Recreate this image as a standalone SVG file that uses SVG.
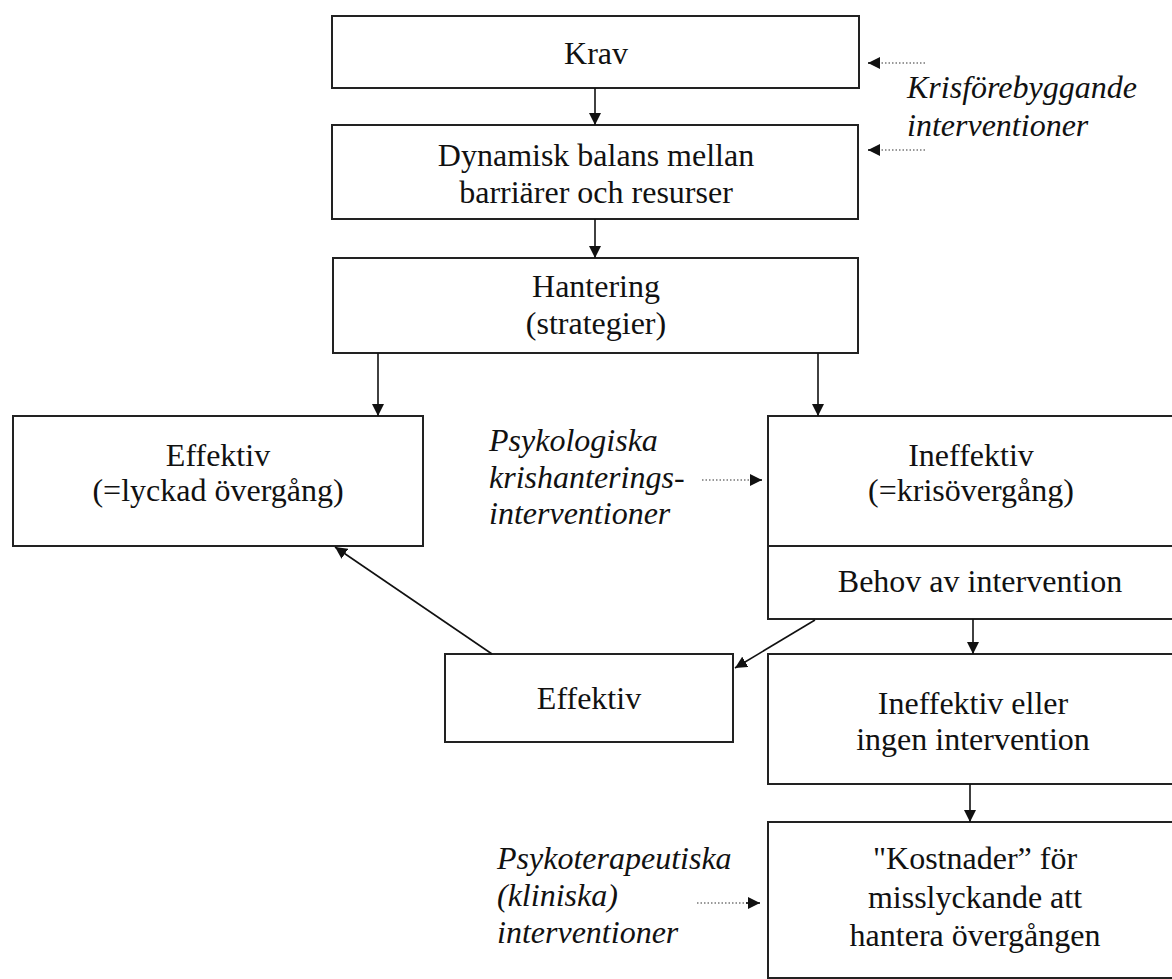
<svg xmlns="http://www.w3.org/2000/svg" width="1172" height="979" viewBox="0 0 1172 979">
<defs>
<style>
.box{fill:#fff;stroke:#222;stroke-width:2}
.t{font-family:"Liberation Serif","Times New Roman",serif;font-size:32px;fill:#111;text-anchor:middle}
.i{font-family:"Liberation Serif","Times New Roman",serif;font-size:32px;font-style:italic;fill:#111}
.c{stroke:#111;stroke-width:1.6;fill:none}
.d{stroke:#777;stroke-width:1.5;stroke-dasharray:1.5 2;fill:none}
</style>
<marker id="ah" viewBox="0 0 10 10" refX="10" refY="5" markerWidth="12" markerHeight="12" markerUnits="userSpaceOnUse" orient="auto">
<path d="M0,0 L10,5 L0,10 z" fill="#111"/>
</marker>
</defs>
<rect width="1172" height="979" fill="#fff"/>
<g id="krav"><rect class="box" x="332" y="16" width="527" height="72"/><text class="t" x="596" y="64">Krav</text></g>
<g id="dynamisk"><rect class="box" x="332" y="125" width="526" height="94"/><text class="t" x="596" y="166">Dynamisk balans mellan</text><text class="t" x="596" y="203">barriärer och resurser</text></g>
<g id="hantering"><rect class="box" x="333" y="258" width="525" height="95"/><text class="t" x="596" y="297">Hantering</text><text class="t" x="596" y="334">(strategier)</text></g>
<g id="effektiv-lyckad"><rect class="box" x="13" y="416" width="410" height="130"/><text class="t" x="218" y="466">Effektiv</text><text class="t" x="218" y="501">(=lyckad övergång)</text></g>
<g id="ineffektiv"><rect class="box" x="768" y="416" width="420" height="130"/><text class="t" x="971" y="466">Ineffektiv</text><text class="t" x="971" y="501">(=krisövergång)</text></g>
<g id="behov"><rect class="box" x="768" y="546" width="420" height="73"/><text class="t" x="980" y="592">Behov av intervention</text></g>
<g id="effektiv"><rect class="box" x="445" y="654" width="288" height="88"/><text class="t" x="589" y="709">Effektiv</text></g>
<g id="ineffektiv-eller"><rect class="box" x="768" y="654" width="420" height="130"/><text class="t" x="973" y="714">Ineffektiv eller</text><text class="t" x="973" y="750">ingen intervention</text></g>
<g id="kostnader"><rect class="box" x="768" y="822" width="420" height="156"/><text class="t" x="975" y="869">"Kostnader” för</text><text class="t" x="975" y="908">misslyckande att</text><text class="t" x="975" y="946">hantera övergången</text></g>
<g id="krisforebyggande"><text class="i" x="907" y="98">Krisförebyggande</text><text class="i" x="907" y="136">interventioner</text></g>
<g id="psykologiska"><text class="i" x="489" y="451">Psykologiska</text><text class="i" x="489" y="488">krishanterings-</text><text class="i" x="489" y="524">interventioner</text></g>
<g id="psykoterapeutiska"><text class="i" x="497" y="869">Psykoterapeutiska</text><text class="i" x="497" y="906">(kliniska)</text><text class="i" x="497" y="943">interventioner</text></g>
<g id="connectors">
<line class="c" x1="595" y1="88" x2="595" y2="125" marker-end="url(#ah)"/>
<line class="c" x1="595" y1="219" x2="595" y2="258" marker-end="url(#ah)"/>
<line class="c" x1="378" y1="353" x2="378" y2="416" marker-end="url(#ah)"/>
<line class="c" x1="818" y1="353" x2="818" y2="416" marker-end="url(#ah)"/>
<line class="c" x1="973" y1="619" x2="973" y2="654" marker-end="url(#ah)"/>
<line class="c" x1="970" y1="784" x2="970" y2="822" marker-end="url(#ah)"/>
<line class="c" x1="815" y1="620" x2="735" y2="668" marker-end="url(#ah)"/>
<line class="c" x1="492" y1="654" x2="335" y2="547" marker-end="url(#ah)"/>
<line class="d" x1="925" y1="63" x2="876" y2="63"/>
<line class="c" x1="878" y1="63" x2="868" y2="63" marker-end="url(#ah)"/>
<line class="d" x1="925" y1="150" x2="876" y2="150"/>
<line class="c" x1="878" y1="150" x2="868" y2="150" marker-end="url(#ah)"/>
<line class="d" x1="702" y1="480" x2="752" y2="480"/>
<line class="c" x1="750" y1="480" x2="762" y2="480" marker-end="url(#ah)"/>
<line class="d" x1="697" y1="903" x2="748" y2="903"/>
<line class="c" x1="746" y1="903" x2="760" y2="903" marker-end="url(#ah)"/>
</g>
</svg>
